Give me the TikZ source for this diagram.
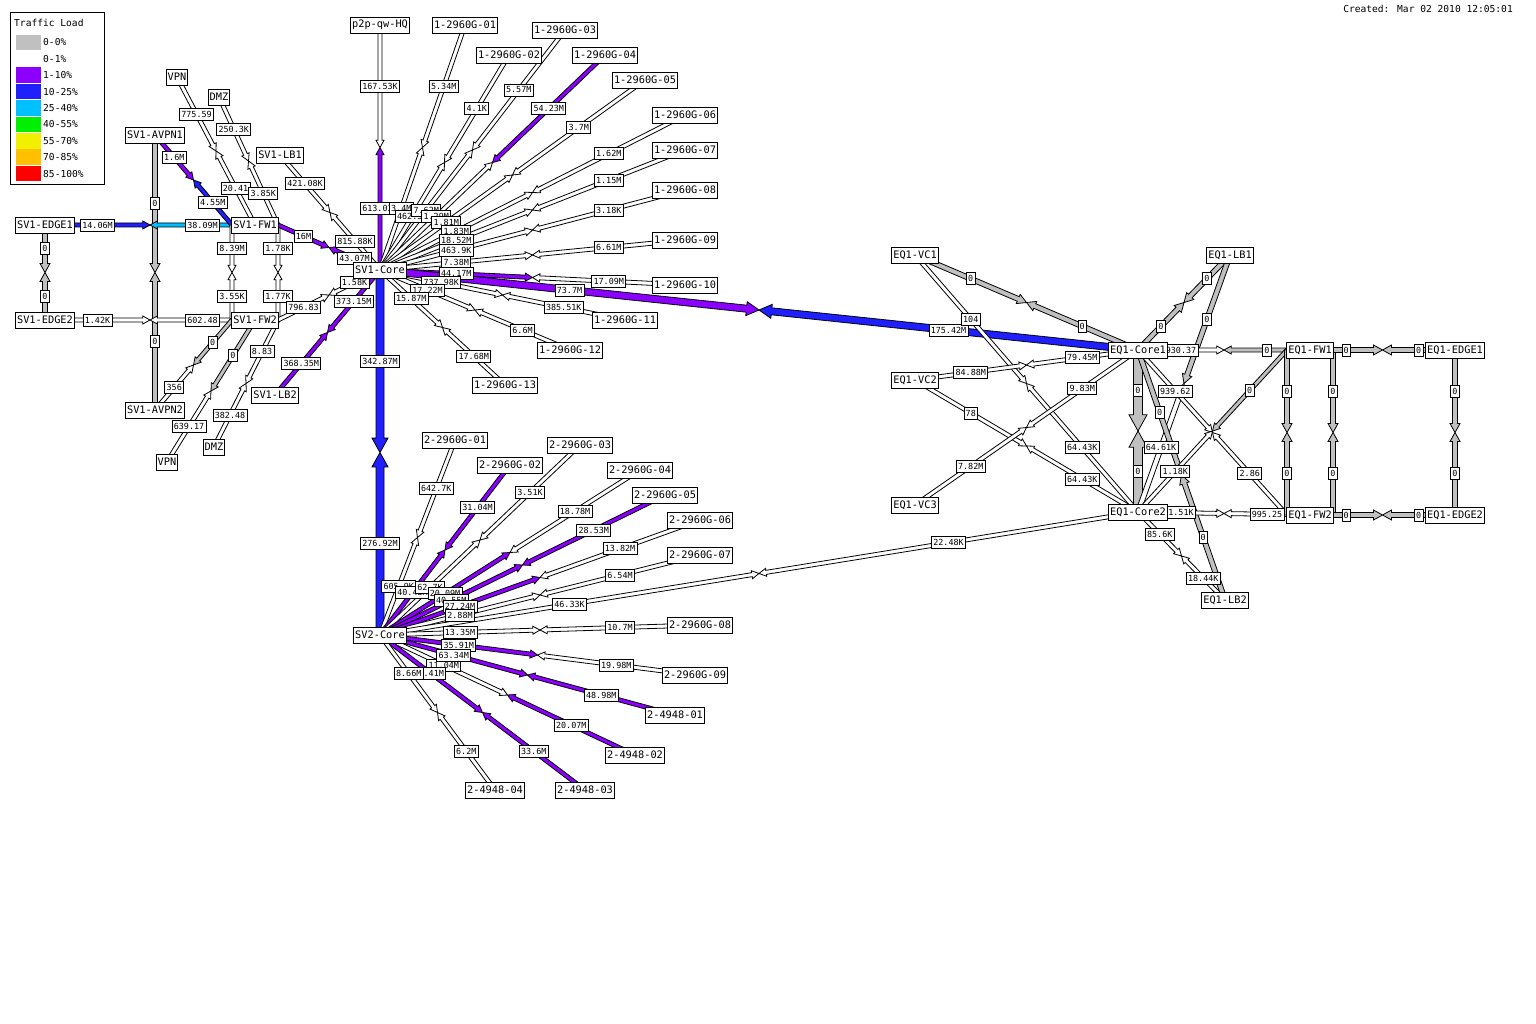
\documentclass[tikz,border=0pt]{standalone}
\usepackage{fontspec}
\usetikzlibrary{calc}
\newfontfamily\wmmono{DejaVu Sans Mono}
\newcommand{\devfont}{\wmmono\fontsize{10.3}{12}\selectfont}
\newcommand{\lblfont}{\wmmono\fontsize{8.4}{10}\selectfont}
\newcommand{\keyfont}{\wmmono\fontsize{9.6}{11}\selectfont}
\definecolor{load0}{RGB}{192,192,192}
\definecolor{load1}{RGB}{255,255,255}
\definecolor{load10}{RGB}{140,0,255}
\definecolor{load25}{RGB}{32,32,255}
\definecolor{load40}{RGB}{0,192,255}
\definecolor{load55}{RGB}{0,240,0}
\definecolor{load70}{RGB}{240,240,0}
\definecolor{load85}{RGB}{255,192,0}
\definecolor{load100}{RGB}{255,0,0}
\pgfdeclarelayer{back}
\pgfdeclarelayer{arr}
\pgfdeclarelayer{lab}
\pgfsetlayers{back,arr,lab,main}
\tikzset{
  dev/.style={draw, fill=white, font=\devfont, inner xsep=1.5pt, inner ysep=0pt, minimum height=16pt, line width=0.8pt},
  lbl/.style={draw, fill=white, font=\lblfont, inner xsep=1.8pt, inner ysep=0pt, minimum height=12pt, line width=0.8pt},
  key/.style={font=\keyfont, inner sep=1pt},
  arrowline/.style={draw=black, line width=0.8pt, line join=miter}
}
% one half of a link: start, tip, colour, width
\newcommand{\halfarr}[4]{%
  \pgfmathsetmacro{\hw}{#4/2}%
  \pgfmathsetmacro{\hh}{#4}%
  \pgfmathsetmacro{\hl}{#4*1.8}%
  \coordinate (headq) at ($(#2)!\hl pt!(#1)$);
  \filldraw[arrowline, fill=#3]
    ($(#1)!\hw pt!90:(#2)$) -- ($(headq)!\hw pt!90:(#2)$) -- ($(headq)!\hh pt!90:(#2)$)
    -- (#2) -- ($(headq)!\hh pt!-90:(#2)$) -- ($(headq)!\hw pt!-90:(#2)$)
    -- ($(#1)!\hw pt!-90:(#2)$) -- cycle;
}
% [width] from, to, colour from, colour to, label from, label to
\newcommand{\wlink}[7][4]{%
  \coordinate (wa) at ($(#2)$);
  \coordinate (wb) at ($(#3)$);
  \coordinate (wm) at ($(wa)!0.5!(wb)$);
  \begin{pgfonlayer}{arr}
    \halfarr{wa}{wm}{#4}{#1}
    \halfarr{wb}{wm}{#5}{#1}
  \end{pgfonlayer}
  \begin{pgfonlayer}{lab}
    \node[lbl] (#2-#3-a) at ($(wa)!0.25!(wb)$) {#6};
    \node[lbl] (#2-#3-b) at ($(wa)!0.75!(wb)$) {#7};
  \end{pgfonlayer}
}

\begin{document}
\begin{tikzpicture}[x=1pt, y=-1pt]
  \begin{pgfonlayer}{back}
    \fill[white] (0,0) rectangle (1536,1024);
  \end{pgfonlayer}
  \path[use as bounding box] (0,0) rectangle (1536,1024);

  % legend
  \draw[line width=0.8pt] (10,12) rectangle (104,184);
  \node[key, anchor=west] (keytitle) at (13,23) {Traffic Load};
  \foreach \c/\t [count=\i from 0] in {load0/0-0\%, load1/0-1\%, load10/1-10\%, load25/10-25\%,
      load40/25-40\%, load55/40-55\%, load70/55-70\%, load85/70-85\%, load100/85-100\%} {
    \fill[\c] (16,{34.6+16.4*\i}) rectangle (41,{50.2+16.4*\i});
    \node[key, anchor=west] (key\i) at (42,{42.4+16.4*\i}) {\t};
  }
  \node[key, anchor=east] (created) at (1514,9) {Created: Mar 02 2010 12:05:01};

  % SV1 site
  \node[dev] (sv1edge1) at (45,225) {SV1-EDGE1};
  \node[dev] (sv1edge2) at (45,320) {SV1-EDGE2};
  \node[dev] (sv1avpn1) at (155,135) {SV1-AVPN1};
  \node[dev] (sv1avpn2) at (155,410) {SV1-AVPN2};
  \node[dev] (vpna) at (177,77) {VPN};
  \node[dev] (dmza) at (219,97) {DMZ};
  \node[dev] (sv1lb1) at (280,155) {SV1-LB1};
  \node[dev] (sv1fw1) at (255,225) {SV1-FW1};
  \node[dev] (sv1fw2) at (255,320) {SV1-FW2};
  \node[dev] (sv1lb2) at (275,395) {SV1-LB2};
  \node[dev] (dmzb) at (214,447) {DMZ};
  \node[dev] (vpnb) at (167,462) {VPN};
  \node[dev] (sv1core) at (380,270) {SV1-Core};
  \node[dev] (p2phq) at (380,25) {p2p-qw-HQ};
  \coordinate (sv1fw1w) at ($(sv1fw1)+(-23,0)$);
  \coordinate (sv1fw1e) at ($(sv1fw1)+(23,0)$);
  \coordinate (sv1fw2w) at ($(sv1fw2)+(-23,0)$);
  \coordinate (sv1fw2e) at ($(sv1fw2)+(23,0)$);

  \node[dev] (a01) at (465,25) {1-2960G-01};
  \node[dev] (a02) at (509,55) {1-2960G-02};
  \node[dev] (a03) at (565,30) {1-2960G-03};
  \node[dev] (a04) at (605,55) {1-2960G-04};
  \node[dev] (a05) at (645,80) {1-2960G-05};
  \node[dev] (a06) at (685,115) {1-2960G-06};
  \node[dev] (a07) at (685,150) {1-2960G-07};
  \node[dev] (a08) at (685,190) {1-2960G-08};
  \node[dev] (a09) at (685,240) {1-2960G-09};
  \node[dev] (a10) at (685,285) {1-2960G-10};
  \node[dev] (a11) at (625,320) {1-2960G-11};
  \node[dev] (a12) at (570,350) {1-2960G-12};
  \node[dev] (a13) at (505,385) {1-2960G-13};

  % SV2 site
  \node[dev] (sv2core) at (380,635) {SV2-Core};
  \node[dev] (b01) at (455,440) {2-2960G-01};
  \node[dev] (b02) at (510,465) {2-2960G-02};
  \node[dev] (b03) at (580,445) {2-2960G-03};
  \node[dev] (b04) at (640,470) {2-2960G-04};
  \node[dev] (b05) at (665,495) {2-2960G-05};
  \node[dev] (b06) at (700,520) {2-2960G-06};
  \node[dev] (b07) at (700,555) {2-2960G-07};
  \node[dev] (b08) at (700,625) {2-2960G-08};
  \node[dev] (b09) at (695,675) {2-2960G-09};
  \node[dev] (c01) at (675,715) {2-4948-01};
  \node[dev] (c02) at (635,755) {2-4948-02};
  \node[dev] (c03) at (585,790) {2-4948-03};
  \node[dev] (c04) at (495,790) {2-4948-04};

  % EQ1 site
  \node[dev] (eqvc1) at (915,255) {EQ1-VC1};
  \node[dev] (eqvc2) at (915,380) {EQ1-VC2};
  \node[dev] (eqvc3) at (915,505) {EQ1-VC3};
  \node[dev] (eqcore1) at (1138,350) {EQ1-Core1};
  \node[dev] (eqcore2) at (1138,512) {EQ1-Core2};
  \node[dev] (eqlb1) at (1230,255) {EQ1-LB1};
  \node[dev] (eqlb2) at (1225,600) {EQ1-LB2};
  \node[dev] (eqfw1) at (1310,350) {EQ1-FW1};
  \node[dev] (eqfw2) at (1310,515) {EQ1-FW2};
  \node[dev] (eqedge1) at (1455,350) {EQ1-EDGE1};
  \node[dev] (eqedge2) at (1455,515) {EQ1-EDGE2};
  \coordinate (eqfw1w) at ($(eqfw1)+(-23,0)$);
  \coordinate (eqfw1e) at ($(eqfw1)+(23,0)$);
  \coordinate (eqfw2w) at ($(eqfw2)+(-23,0)$);
  \coordinate (eqfw2e) at ($(eqfw2)+(23,0)$);

  % SV1 links
  \wlink[5]{sv1edge1}{sv1edge2}{load0}{load0}{0}{0}
  \wlink[5]{sv1avpn1}{sv1avpn2}{load0}{load0}{0}{0}
  \wlink{sv1edge1}{sv1fw1}{load25}{load40}{14.06M}{38.09M}
  \wlink{sv1edge2}{sv1fw2}{load1}{load1}{1.42K}{602.48}
  \wlink{sv1avpn1}{sv1fw1w}{load10}{load25}{1.6M}{4.55M}
  \wlink{vpna}{sv1fw1}{load1}{load1}{775.59}{20.41}
  \wlink{dmza}{sv1fw1e}{load1}{load1}{250.3K}{3.85K}
  \wlink{sv1fw1w}{sv1fw2w}{load1}{load1}{8.39M}{3.55K}
  \wlink{sv1fw1e}{sv1fw2e}{load1}{load1}{1.78K}{1.77K}
  \wlink{sv1fw2w}{sv1avpn2}{load0}{load1}{0}{356}
  \wlink{sv1fw2}{vpnb}{load0}{load1}{0}{639.17}
  \wlink{sv1fw2e}{dmzb}{load1}{load1}{8.83}{382.48}
  \wlink{sv1lb1}{sv1core}{load1}{load1}{421.08K}{815.88K}
  \wlink{sv1fw1e}{sv1core}{load10}{load10}{16M}{43.07M}
  \wlink{sv1fw2e}{sv1core}{load1}{load1}{796.83}{1.58K}
  \wlink{sv1lb2}{sv1core}{load10}{load10}{368.35M}{373.15M}

  % SV1-Core fan
  \wlink{sv1core}{p2phq}{load10}{load1}{613.03M}{167.53K}
  \wlink{sv1core}{a01}{load1}{load1}{3.4M}{5.34M}
  \wlink{sv1core}{a02}{load1}{load1}{462.5K}{4.1K}
  \wlink{sv1core}{a03}{load1}{load1}{7.62M}{5.57M}
  \wlink{sv1core}{a04}{load1}{load10}{1.29M}{54.23M}
  \wlink{sv1core}{a05}{load1}{load1}{1.81M}{3.7M}
  \wlink{sv1core}{a06}{load1}{load1}{1.83M}{1.62M}
  \wlink{sv1core}{a07}{load1}{load1}{18.52M}{1.15M}
  \wlink{sv1core}{a08}{load1}{load1}{463.9K}{3.18K}
  \wlink{sv1core}{a09}{load1}{load1}{7.38M}{6.61M}
  \wlink{sv1core}{a10}{load10}{load1}{44.17M}{17.09M}
  \wlink{sv1core}{a11}{load1}{load1}{737.98K}{385.51K}
  \wlink{sv1core}{a12}{load1}{load1}{17.22M}{6.6M}
  \wlink{sv1core}{a13}{load1}{load1}{15.87M}{17.68M}
  \wlink[8]{sv1core}{sv2core}{load25}{load25}{342.87M}{276.92M}
  \wlink[7]{sv1core}{eqcore1}{load10}{load25}{73.7M}{175.42M}

  % SV2-Core fan
  \wlink{sv2core}{b01}{load1}{load1}{605.9K}{642.7K}
  \wlink{sv2core}{b02}{load10}{load10}{40.43M}{31.04M}
  \wlink{sv2core}{b03}{load1}{load1}{62.7K}{3.51K}
  \wlink{sv2core}{b04}{load10}{load1}{20.09M}{18.78M}
  \wlink{sv2core}{b05}{load10}{load10}{40.55M}{28.53M}
  \wlink{sv2core}{b06}{load10}{load1}{27.24M}{13.82M}
  \wlink{sv2core}{b07}{load1}{load1}{2.88M}{6.54M}
  \wlink{sv2core}{eqcore2}{load1}{load1}{46.33K}{22.48K}
  \wlink{sv2core}{b08}{load1}{load1}{13.35M}{10.7M}
  \wlink{sv2core}{b09}{load10}{load1}{35.91M}{19.98M}
  \wlink{sv2core}{c02}{load1}{load10}{11.04M}{20.07M}
  \wlink{sv2core}{c01}{load10}{load10}{63.34M}{48.98M}
  \wlink{sv2core}{c03}{load10}{load10}{5.41M}{33.6M}
  \wlink{sv2core}{c04}{load1}{load1}{8.66M}{6.2M}

  % EQ1 links
  \wlink[5]{eqvc1}{eqcore1}{load0}{load0}{0}{0}
  \wlink{eqvc1}{eqcore2}{load1}{load1}{104}{64.43K}
  \wlink{eqvc2}{eqcore1}{load1}{load1}{84.88M}{79.45M}
  \wlink{eqvc2}{eqcore2}{load1}{load1}{78}{64.43K}
  \wlink{eqvc3}{eqcore1}{load1}{load1}{7.82M}{9.83M}
  \wlink[9]{eqcore1}{eqcore2}{load0}{load0}{0}{0}
  \wlink[5]{eqcore1}{eqlb1}{load0}{load0}{0}{0}
  \wlink[5]{eqlb1}{eqcore2}{load0}{load1}{0}{64.61K}
  \wlink[5]{eqcore1}{eqlb2}{load0}{load0}{0}{0}
  \wlink{eqcore2}{eqlb2}{load1}{load1}{85.6K}{18.44K}
  \wlink{eqcore1}{eqfw1}{load1}{load0}{930.37}{0}
  \wlink{eqcore1}{eqfw2w}{load1}{load1}{939.62}{2.86}
  \wlink{eqcore2}{eqfw1w}{load1}{load0}{1.18K}{0}
  \wlink{eqcore2}{eqfw2}{load1}{load1}{1.51K}{995.25}
  \wlink[5]{eqfw1w}{eqfw2w}{load0}{load0}{0}{0}
  \wlink[5]{eqfw1e}{eqfw2e}{load0}{load0}{0}{0}
  \wlink[5]{eqfw1}{eqedge1}{load0}{load0}{0}{0}
  \wlink[5]{eqfw2}{eqedge2}{load0}{load0}{0}{0}
  \wlink[5]{eqedge1}{eqedge2}{load0}{load0}{0}{0}
\end{tikzpicture}
\end{document}
